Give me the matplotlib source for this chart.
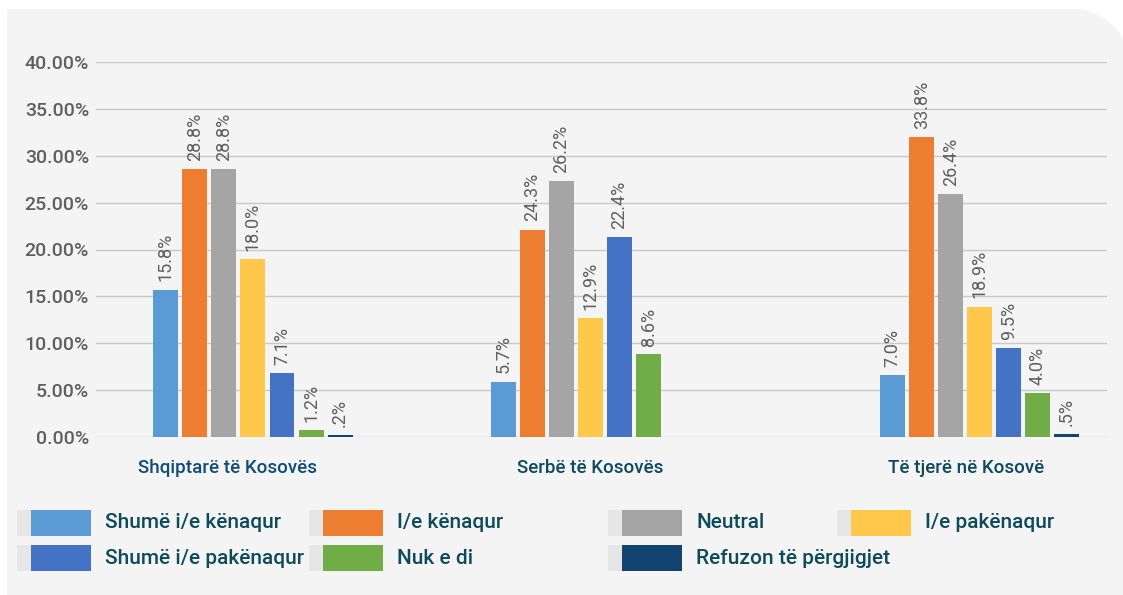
import numpy as np
import matplotlib
matplotlib.use("Agg")
import matplotlib.pyplot as plt
from matplotlib.patches import Rectangle, PathPatch
from matplotlib.path import Path

plt.rcParams['font.family'] = ['Roboto', 'DejaVu Sans']

# data
categories = ["Shqiptarë të Kosovës", "Serbë të Kosovës", "Të tjerë në Kosovë"]
series = ["Shumë i/e kënaqur", "I/e kënaqur", "Neutral", "I/e pakënaqur",
          "Shumë i/e pakënaqur", "Nuk e di", "Refuzon të përgjigjet"]

# bar heights (%) as drawn
shume_kenaqur = [15.7, 5.9, 6.6]
kenaqur = [28.6, 22.1, 32.0]
neutral = [28.6, 27.3, 25.9]
pakenaqur = [19.0, 12.7, 13.9]
shume_pakenaqur = [6.8, 21.3, 9.5]
nuk_e_di = [0.75, 8.85, 4.7]
refuzon = [0.2, None, 0.32]

# the printed labels above the bars
lbl_shume_kenaqur = ["15.8%", "5.7%", "7.0%"]
lbl_kenaqur = ["28.8%", "24.3%", "33.8%"]
lbl_neutral = ["28.8%", "26.2%", "26.4%"]
lbl_pakenaqur = ["18.0%", "12.9%", "18.9%"]
lbl_shume_pakenaqur = ["7.1%", "22.4%", "9.5%"]
lbl_nuk_e_di = ["1.2%", "8.6%", "4.0%"]
lbl_refuzon = [".2%", None, ".5%"]

yticks = [0, 5, 10, 15, 20, 25, 30, 35, 40]

values = [shume_kenaqur, kenaqur, neutral, pakenaqur, shume_pakenaqur, nuk_e_di, refuzon]
labels = [lbl_shume_kenaqur, lbl_kenaqur, lbl_neutral, lbl_pakenaqur,
          lbl_shume_pakenaqur, lbl_nuk_e_di, lbl_refuzon]
colors = ["#5B9BD5", "#ED7D31", "#A5A5A5", "#FFC84A", "#4472C4", "#70AD47", "#13436F"]

# layout
W, H = 1123, 595
group_pos = [0.0, 1.0, 2.153]
label_pos = [-0.076, 0.999, 2.113]
bar_w = 0.074
step = 0.086
txt_gray = "#5F5F5F"
teal = "#0D4A5C"

fig = plt.figure(figsize=(W / 100, H / 100), dpi=100)
fig.patch.set_facecolor("white")

# light panel, rounded top-right corner (pixel coords, y down)
r = 57
cx, cy = 1130 - r, 9 + r
ang = np.linspace(np.pi / 2, 0, 20)
pts = [(7, H + 5), (7, 9), (cx, 9)]
pts += [(cx + r * np.cos(a), cy - r * np.sin(a)) for a in ang]
pts += [(1130, H + 5), (7, H + 5)]
verts = [(px / W, 1 - py / H) for px, py in pts]
fig.patches.append(PathPatch(Path(verts, closed=True), transform=fig.transFigure,
                             facecolor="#F4F4F4", edgecolor="none", zorder=-10))

ax = fig.add_axes([96 / W, 1 - 437 / H, (1107 - 96) / W, (437 - 62) / H])
ax.set_facecolor("none")

for i, (vals, lbls, c) in enumerate(zip(values, labels, colors)):
    for g, (v, t) in enumerate(zip(vals, lbls)):
        if v is None:
            continue
        x = group_pos[g] + (i - 3) * step
        ax.bar(x, v, width=bar_w, color=c, zorder=3)
        ax.annotate(t, (x, v), xytext=(0, 6), textcoords="offset points",
                    rotation=90, ha="center", va="bottom",
                    fontsize=13, color=txt_gray)

ax.set_ylim(0, 40)
ax.set_xlim(-0.465, 2.530)
ax.set_yticks(yticks)
ax.set_yticklabels([f"{t:.2f}%" for t in yticks], fontsize=14, color=txt_gray,
                   fontweight="medium")
ax.set_xticks(label_pos)
ax.set_xticklabels(categories, fontsize=13.5, color=teal, fontweight="medium")
ax.get_xticklabels()[0].set_color("#114B78")
ax.tick_params(axis="both", length=0)
ax.tick_params(axis="x", pad=16)
ax.tick_params(axis="y", pad=5)
ax.grid(axis="y", color="#C9C9C9", linewidth=1.0, zorder=0)
for s in ax.spines.values():
    s.set_visible(False)

# legend drawn by hand in a 4-column grid
col_x = [17, 309, 608, 837]
row_y = [510, 545]
for i, (name, c) in enumerate(zip(series, colors)):
    x0 = col_x[i % 4]
    y0 = row_y[i // 4]
    fig.patches.append(Rectangle((x0 / W, 1 - (y0 + 26) / H), 14 / W, 26 / H,
                                 transform=fig.transFigure, facecolor="#E6E6E6",
                                 edgecolor="none"))
    fig.patches.append(Rectangle(((x0 + 14) / W, 1 - (y0 + 26) / H), 60 / W, 26 / H,
                                 transform=fig.transFigure, facecolor=c,
                                 edgecolor="none"))
    fig.text((x0 + 88) / W, 1 - (y0 + 13) / H, name, fontsize=15, color=teal,
             fontweight="medium", ha="left", va="center")

fig.savefig("out.png", dpi=100)
